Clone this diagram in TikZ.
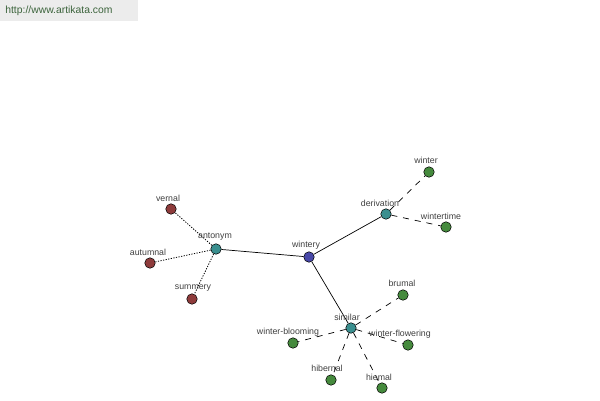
\documentclass[tikz,border=0pt]{standalone}
\usepackage{fontspec}
\setmainfont{Liberation Sans}
\definecolor{hubblue}{HTML}{4848A8}
\definecolor{relteal}{HTML}{3A8F8F}
\definecolor{antred}{HTML}{8E3B3B}
\definecolor{wordgreen}{HTML}{458A3D}
\definecolor{lblgray}{HTML}{404040}
\tikzset{
	dot/.style={circle, draw=black, line width=0.3pt, fill=#1, inner sep=0pt, minimum size=0.21cm},
	lbl/.style={text=lblgray, font=\fontsize{5}{6}\selectfont, inner sep=0pt},
	dashlink/.style={dash pattern=on 3.4pt off 3.4pt, line width=0.4pt},
	dotlink/.style={dash pattern=on 0.7pt off 0.8pt, line width=0.45pt}
}

\begin{document}
\begin{tikzpicture}[x=0.02cm, y=-0.02cm]
	\useasboundingbox (0,0) rectangle (600,400);
	\fill[white] (0,0) rectangle (600,400);
	\fill[gray!15] (0,0) rectangle (138,21);
		\node[anchor=west, text={rgb,255:red,60;green,100;blue,60}, font=\fontsize{5.9}{7}\selectfont, inner sep=0pt] (site) at (5,11) {http://www.artikata.com};
%
	\node[dot=hubblue] (wintery) at (309,257) {};
	\node[dot=relteal] (antonym) at (216,249) {};
	\node[dot=relteal] (derivation) at (386,214) {};
	\node[dot=relteal] (similar) at (351,328) {};
%
	\node[dot=wordgreen] (winter) at (429,172) {};
	\node[dot=wordgreen] (wintertime) at (446,227) {};
	\node[dot=antred] (vernal) at (171,209) {};
	\node[dot=antred] (autumnal) at (150,263) {};
	\node[dot=antred] (summery) at (192,299) {};
	\node[dot=wordgreen] (brumal) at (403,295) {};
	\node[dot=wordgreen] (winterblooming) at (293,343) {};
	\node[dot=wordgreen] (winterflowering) at (408,345) {};
	\node[dot=wordgreen] (hibernal) at (331,380) {};
	\node[dot=wordgreen] (hiemal) at (382,388) {};
%
	\draw[line width=0.4pt] (wintery) -- (antonym);
	\draw[line width=0.4pt] (wintery) -- (derivation);
	\draw[line width=0.4pt] (wintery) -- (similar);
	\draw[dotlink] (antonym) -- (vernal);
	\draw[dotlink] (antonym) -- (autumnal);
	\draw[dotlink] (antonym) -- (summery);
	\draw[dashlink] (derivation) -- (winter);
	\draw[dashlink] (derivation) -- (wintertime);
	\draw[dashlink] (similar) -- (brumal);
	\draw[dashlink] (similar) -- (winterblooming);
	\draw[dashlink] (similar) -- (winterflowering);
	\draw[dashlink] (similar) -- (hibernal);
	\draw[dashlink] (similar) -- (hiemal);
%
	\node[lbl] (wintery-t) at (306,245) {wintery};
	\node[lbl] (antonym-t) at (215,237) {antonym};
	\node[lbl] (derivation-t) at (380,203) {derivation};
	\node[lbl] (similar-t) at (347,317) {similar};
	\node[lbl] (winter-t) at (426,160) {winter};
	\node[lbl] (wintertime-t) at (441,216) {wintertime};
	\node[lbl] (vernal-t) at (168,198) {vernal};
	\node[lbl] (autumnal-t) at (148,252) {autumnal};
	\node[lbl] (summery-t) at (193,288) {summery};
	\node[lbl] (brumal-t) at (402,283) {brumal};
	\node[lbl] (winterblooming-t) at (288,332) {winter-blooming};
	\node[lbl] (winterflowering-t) at (400,334) {winter-flowering};
	\node[lbl] (hibernal-t) at (327,368) {hibernal};
	\node[lbl] (hiemal-t) at (379,377) {hiemal};
\end{tikzpicture}
\end{document}
